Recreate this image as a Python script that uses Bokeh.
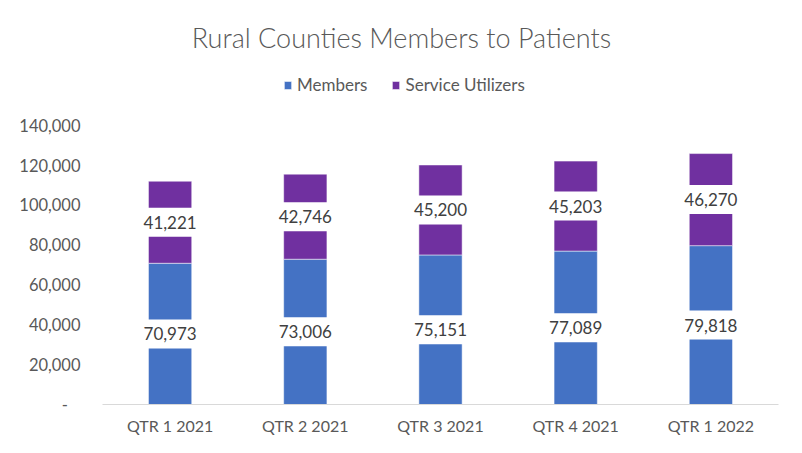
from bokeh.plotting import figure
from bokeh.models import (ColumnDataSource, FactorRange, Range1d, FixedTicker,
                          NumeralTickFormatter, Legend, LegendItem, Label)
from bokeh.core.properties import value
from bokeh.embed import file_html
from bokeh.resources import INLINE

quarters = ["QTR 1 2021", "QTR 2 2021", "QTR 3 2021", "QTR 4 2021", "QTR 1 2022"]
members = [70973, 73006, 75151, 77089, 79818]
utilizers = [41221, 42746, 45200, 45203, 46270]
y_ticks = [0, 20000, 40000, 60000, 80000, 100000, 120000, 140000]
title_text = "Rural Counties Members to Patients"
series_names = ["Members", "Service Utilizers"]
colors = ["#4472C4", "#7030A0"]

FONT = "Lato"
TXT = "#595959"

src = ColumnDataSource(dict(q=quarters, Members=members, Utilizers=utilizers))

# frame spans the whole height so that title and legend can sit inside it;
# 0 at y=404 and 140,000 at y=125 (screen)
p = figure(x_range=FactorRange(*quarters, range_padding=0), y_range=Range1d(0, 203000),
           width=786, height=437, output_backend="svg", toolbar_location=None,
           min_border_left=102, min_border_right=8, min_border_top=0, min_border_bottom=33)
p.title.visible = False
p.outline_line_color = None
p.xgrid.visible = False
p.ygrid.visible = False

rs = p.vbar_stack(["Members", "Utilizers"], x="q", width=0.32, source=src,
                  color=colors, line_color="white", line_width=0.5)

# data labels with white boxes
lab_x = quarters + quarters
lab_y = [m / 2 for m in members] + [m + u / 2 for m, u in zip(members, utilizers)]
lab_t = [f"{v:,}" for v in members] + [f"{v:,}" for v in utilizers]
lsrc = ColumnDataSource(dict(x=lab_x, y=lab_y, t=lab_t))
p.rect(x="x", y="y", width=60, height=29, width_units="screen", height_units="screen",
       source=lsrc, fill_color="white", line_color=None)
p.text(x="x", y="y", text="t", source=lsrc, text_align="center", text_baseline="middle",
       text_font=value(FONT), text_font_size="17px", text_color="#404040")

# axes
p.yaxis.ticker = FixedTicker(ticks=y_ticks)
p.yaxis.formatter = NumeralTickFormatter(format="0,0")
p.yaxis.major_label_overrides = {0: "-\u00a0\u00a0\u00a0"}
p.yaxis.axis_line_color = None
p.yaxis.major_tick_line_color = None
p.yaxis.minor_tick_line_color = None
p.yaxis.major_tick_out = 0
p.yaxis.major_label_standoff = 22
p.yaxis.major_label_text_font = FONT
p.yaxis.major_label_text_font_size = "16.5px"
p.yaxis.major_label_text_color = TXT

p.xaxis.axis_line_color = "#d9d9d9"
p.xaxis.axis_line_width = 1
p.xaxis.major_tick_line_color = None
p.xaxis.minor_tick_line_color = None
p.xaxis.major_tick_out = 0
p.xaxis.major_label_standoff = 11
p.xaxis.major_label_text_font = FONT
p.xaxis.major_label_text_font_size = "16px"
p.xaxis.major_label_text_color = TXT

# title
p.add_layout(Label(x=299, y=367, x_units="screen", y_units="screen", text=title_text,
                   text_align="center", text_baseline="middle",
                   text_font="'Lato Light', Lato, sans-serif",
                   text_font_size="27px", text_color=TXT))

legend = Legend(items=[LegendItem(label=series_names[0], renderers=[rs[0]]),
                       LegendItem(label=series_names[1], renderers=[rs[1]])],
                location=(181, 309), orientation="horizontal", padding=0, margin=0,
                spacing=24, glyph_width=9, glyph_height=10, label_standoff=5,
                border_line_color=None, background_fill_alpha=0,
                label_text_font=FONT, label_text_font_size="17px", label_text_color=TXT)
p.add_layout(legend)

open("out.html", "w").write(file_html(p, INLINE))
